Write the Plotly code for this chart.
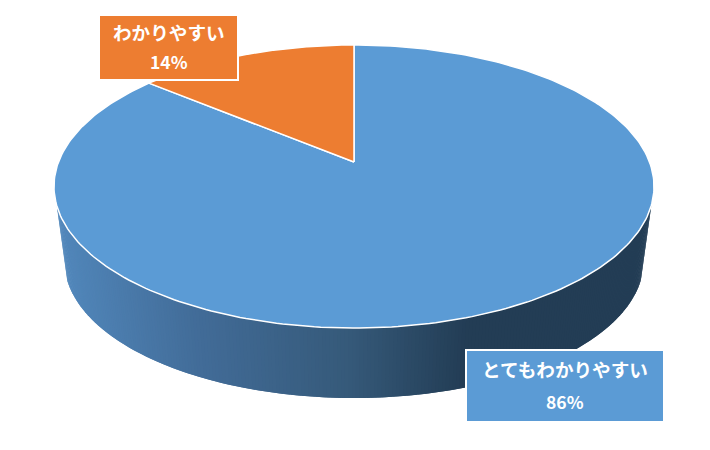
import numpy as np
import plotly.graph_objects as go

categories = ["とてもわかりやすい", "わかりやすい"]
values = [86, 14]
percent_labels = ["86%", "14%"]
slice_colors = ["#5b9bd5", "#ed7d31"]

W, H = 710, 450
CX, APEX_Y = 354.0, 162.0
A, B, K = 295.5, 137.3, 0.173
BOTTOM_SCALE, BOTTOM_Y0 = 0.965, 237.8
SIDE_START_V = -0.30


def project(theta, scale=1.0, y0=APEX_Y):
    """theta measured from 12 o'clock on the pie's own circle."""
    u = np.sin(theta)
    v = np.cos(theta)
    d = 1 + K * v
    return CX + scale * A * u / d, y0 - scale * B * v / d


def lerp_color(x):
    xs = [55, 200, 350, 470, 660]
    rs = [82, 66, 54, 35, 35]
    gs = [136, 108, 90, 61, 61]
    bs = [188, 152, 122, 85, 85]
    return "rgb(%d,%d,%d)" % (np.interp(x, xs, rs), np.interp(x, xs, gs), np.interp(x, xs, bs))


fig = go.Figure()

# side wall, coloured strip by strip from the left of the cake to the right
t_start = np.arccos(SIDE_START_V)
thetas = np.linspace(2 * np.pi - t_start, t_start, 240)
for i in range(len(thetas) - 1):
    seg = np.linspace(thetas[i], thetas[min(i + 2, len(thetas) - 1)], 3)
    xt, yt = project(seg)
    xb, yb = project(seg[::-1], BOTTOM_SCALE, BOTTOM_Y0)
    fig.add_trace(go.Scatter(
        x=np.r_[xt, xb], y=np.r_[yt, yb], mode="lines", fill="toself",
        line=dict(width=0), fillcolor=lerp_color(float(xt.mean())),
        hoverinfo="skip", showlegend=False))

# top face: the two slices are laid out from the values, starting at 12 o'clock
fractions = np.array(values, dtype=float) / sum(values)
orange_span = 2 * np.pi * fractions[1]
spans = [(-2 * np.pi, -orange_span), (-orange_span, 0.0)]
for (a0, a1), name, color in zip(spans, categories, slice_colors):
    t = np.linspace(a0, a1, 300)
    x, y = project(t)
    fig.add_trace(go.Scatter(
        x=np.r_[CX, x, CX], y=np.r_[APEX_Y, y, APEX_Y], mode="lines", fill="toself",
        fillcolor=color, line=dict(color="white", width=1.5),
        name=name, hoverinfo="skip", showlegend=False))

boxes = [(466, 664, 350, 422), (99, 238, 15, 80)]
shapes = []
annotations = []
for (x0, x1, y0, y1), cat, pct, color in zip(boxes, categories, percent_labels, slice_colors):
    shapes.append(dict(type="rect", x0=x0, x1=x1, y0=y0, y1=y1, fillcolor=color,
                       line=dict(color="white", width=2), layer="above"))
    xm = (x0 + x1) / 2
    h = y1 - y0
    for txt, yy, size in ((cat, y0 + h * 0.25, 18.6), (pct, y0 + h * 0.72, 17.5)):
        annotations.append(dict(
            x=xm, y=yy, text="<b>%s</b>" % txt, showarrow=False, xanchor="center", yanchor="middle",
            font=dict(family="Noto Sans CJK JP", size=size, color="white")))

fig.update_layout(
    width=W, height=H, margin=dict(l=0, r=0, t=0, b=0),
    paper_bgcolor="white", plot_bgcolor="white", showlegend=False,
    xaxis=dict(range=[0, W], visible=False, fixedrange=True),
    yaxis=dict(range=[H, 0], visible=False, fixedrange=True),
    shapes=shapes, annotations=annotations)

fig.write_html("out.html", config={"displayModeBar": False},
               post_script="document.body.style.margin='0';")
